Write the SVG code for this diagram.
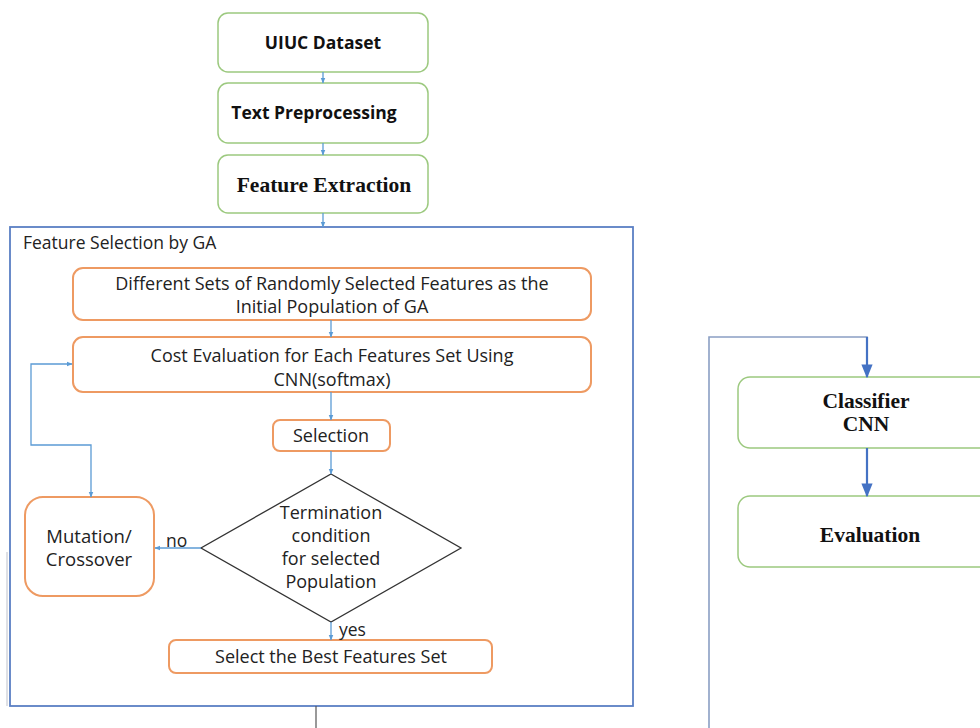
<svg xmlns="http://www.w3.org/2000/svg" width="980" height="728" viewBox="0 0 980 728">
<defs>
<style>
.g{fill:#fff;stroke:#9cc97f;stroke-width:1.5}
.o{fill:#fff;stroke:#ee9a62;stroke-width:2}
.sb{font-family:"Open Sans","Liberation Sans",sans-serif;font-weight:bold;font-size:17.5px;fill:#111;text-anchor:middle}
.sf{font-family:"Liberation Serif","Times New Roman",serif;font-weight:bold;font-size:21.5px;fill:#111;text-anchor:middle}
.t{font-family:"Open Sans","Liberation Sans",sans-serif;font-size:18px;fill:#222;text-anchor:middle}
.l{font-family:"Open Sans","Liberation Sans",sans-serif;font-size:17.5px;fill:#222}
.c{fill:none;stroke:#5b9bd5;stroke-width:1.3}
.c2{fill:none;stroke:#4472c4;stroke-width:2.2}
</style>
<marker id="a" viewBox="0 0 10 10" refX="9" refY="5" markerWidth="6" markerHeight="6" markerUnits="userSpaceOnUse" orient="auto-start-reverse"><path d="M0,1 L10,5 L0,9 z" fill="#5b9bd5"/></marker>
<marker id="b" viewBox="0 0 10 10" refX="9" refY="5" markerWidth="14" markerHeight="14" markerUnits="userSpaceOnUse" orient="auto"><path d="M0,1 L10,5 L0,9 z" fill="#4472c4"/></marker>
</defs>
<rect width="980" height="728" fill="#fff"/>
<g id="ga-frame">
<rect x="10" y="227" width="623" height="479" fill="none" stroke="#5a7fc4" stroke-width="1.8"/>
<text class="l" x="23" y="249">Feature Selection by GA</text>
</g>
<line x1="7" y1="552" x2="7" y2="706" stroke="#c8ccd4" stroke-width="1.2"/>
<g id="uiuc"><rect class="g" x="218" y="13" width="210" height="59" rx="10"/><text class="sb" x="323" y="49">UIUC Dataset</text></g>
<g id="textprep"><rect class="g" x="218" y="83" width="210" height="60" rx="10"/><text class="sb" x="314" y="119">Text Preprocessing</text></g>
<g id="featext"><rect class="g" x="218" y="155" width="210" height="58" rx="10"/><text class="sf" x="324" y="192">Feature Extraction</text></g>
<g id="initpop"><rect class="o" x="73" y="268" width="518" height="52" rx="10"/><text class="t" x="332" y="290">Different Sets of Randomly Selected Features as the</text><text class="t" x="332" y="313">Initial Population of GA</text></g>
<g id="cost"><rect class="o" x="73" y="337" width="518" height="55" rx="10"/><text class="t" x="332" y="362">Cost Evaluation for Each Features Set Using</text><text class="t" x="332" y="386">CNN(softmax)</text></g>
<g id="selection"><rect class="o" x="273" y="420" width="117" height="31" rx="7"/><text class="t" x="331" y="442">Selection</text></g>
<g id="termination"><polygon points="331,474 461,548 331,622 201,548" fill="#fff" stroke="#333" stroke-width="1.3"/><text class="t" x="331" y="519">Termination</text><text class="t" x="331" y="542">condition</text><text class="t" x="331" y="565">for selected</text><text class="t" x="331" y="588">Population</text></g>
<g id="mutation"><rect class="o" x="25" y="497" width="129" height="99" rx="18"/><text class="t" x="89" y="543" style="font-size:18.5px">Mutation/</text><text class="t" x="89" y="566" style="font-size:18.5px">Crossover</text></g>
<g id="best"><rect class="o" x="169" y="640" width="323" height="33" rx="7"/><text class="t" x="331" y="663">Select the Best Features Set</text></g>
<g id="classifier"><rect class="g" x="738" y="377" width="260" height="71" rx="12"/><text class="sf" x="866" y="408">Classifier</text><text class="sf" x="866" y="431">CNN</text></g>
<g id="evaluation"><rect class="g" x="738" y="496" width="260" height="71" rx="12"/><text class="sf" x="870" y="542">Evaluation</text></g>
<g id="connectors">
<line class="c" x1="323" y1="72" x2="323" y2="83" marker-end="url(#a)"/>
<line class="c" x1="323" y1="143" x2="323" y2="155" marker-end="url(#a)"/>
<line class="c" x1="323" y1="213" x2="323" y2="227" marker-end="url(#a)"/>
<line class="c" x1="331" y1="320" x2="331" y2="337" marker-end="url(#a)"/>
<line class="c" x1="331" y1="392" x2="331" y2="420" marker-end="url(#a)"/>
<line class="c" x1="331" y1="451" x2="331" y2="474" marker-end="url(#a)"/>
<line class="c" x1="331" y1="622" x2="331" y2="640" marker-end="url(#a)"/>
<line class="c" x1="201" y1="548" x2="155" y2="548" marker-end="url(#a)"/>
<path class="c" d="M91,497 V445 H31 V364 H72" marker-start="url(#a)" marker-end="url(#a)"/>
<text class="l" x="166" y="547">no</text>
<text class="l" x="339" y="636">yes</text>
<line x1="316" y1="706" x2="316" y2="728" stroke="#555" stroke-width="1.2"/>
<path d="M709,728 V337 H867 V374" fill="none" stroke="#8a9fc4" stroke-width="1.6"/>
<line class="c2" x1="867" y1="337" x2="867" y2="377" marker-end="url(#b)"/>
<line class="c2" x1="867" y1="448" x2="867" y2="496" marker-end="url(#b)"/>
</g>
</svg>
